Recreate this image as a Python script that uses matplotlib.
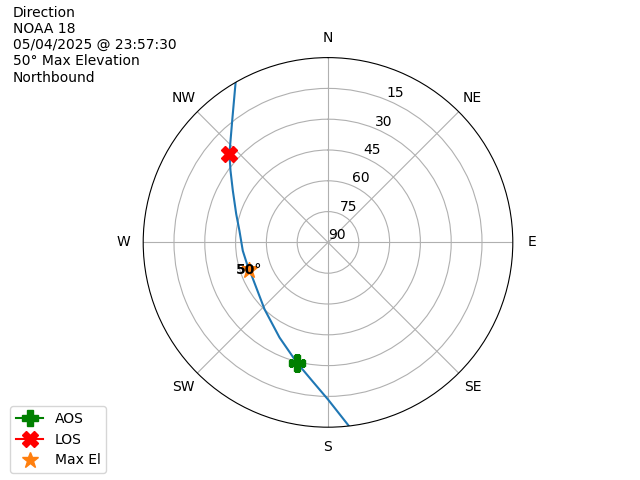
import numpy as np
import matplotlib
matplotlib.use("Agg")
import matplotlib.pyplot as plt

# Pass track (azimuth deg, elevation deg)
track_az = [173.5, 180.0, 186.4, 194.5, 207.0, 223.5, 247.6, 250.6, 264.4, 277.5,
            287.2, 298.6, 306.4, 312.0, 322.4, 330.0]
track_el = [0.0, 13.5, 22.0, 29.5, 38.0, 45.1, 49.5, 49.2, 48.3, 46.5,
            43.2, 37.2, 31.0, 25.4, 13.7, 0.0]

aos_az, aos_el = 194.5, 29.5
los_az, los_el = 312.0, 25.4
max_az, max_el = 250.6, 49.2
max_label = "50°"

compass_angles = [0, 45, 90, 135, 180, 225, 270, 315]
compass_labels = ["N", "NE", "E", "SE", "S", "SW", "W", "NW"]
el_ticks = [15, 30, 45, 60, 75, 90]

info_text = "Direction\nNOAA 18\n05/04/2025 @ 23:57:30\n50° Max Elevation\nNorthbound"

fig = plt.figure(figsize=(6.4, 4.8), dpi=100)
ax = fig.add_subplot(111, projection="polar")
ax.set_theta_zero_location("N")
ax.set_theta_direction(-1)

ax.plot(np.radians(track_az), track_el, color="C0")
ax.plot(np.radians([aos_az]), [aos_el], marker="P", color="green",
        markersize=12, linestyle="-", label="AOS")
ax.plot(np.radians([los_az]), [los_el], marker="X", color="red",
        markersize=12, linestyle="-", label="LOS")
ax.plot(np.radians([max_az]), [max_el], marker="*", color="C1",
        markersize=12, linestyle="none", label="Max El")
ax.text(np.radians(max_az), max_el, max_label, fontweight="bold",
        ha="center", va="center")

ax.set_rlim(90, 0)
ax.set_yticks(el_ticks)
ax.set_yticklabels([str(t) for t in el_ticks])
ax.set_thetagrids(compass_angles, compass_labels)

fig.text(0.02, 0.988, info_text, ha="left", va="top")
fig.legend(loc="lower left", bbox_to_anchor=(0.005, 0.0))

fig.savefig("out.png", dpi=100)
